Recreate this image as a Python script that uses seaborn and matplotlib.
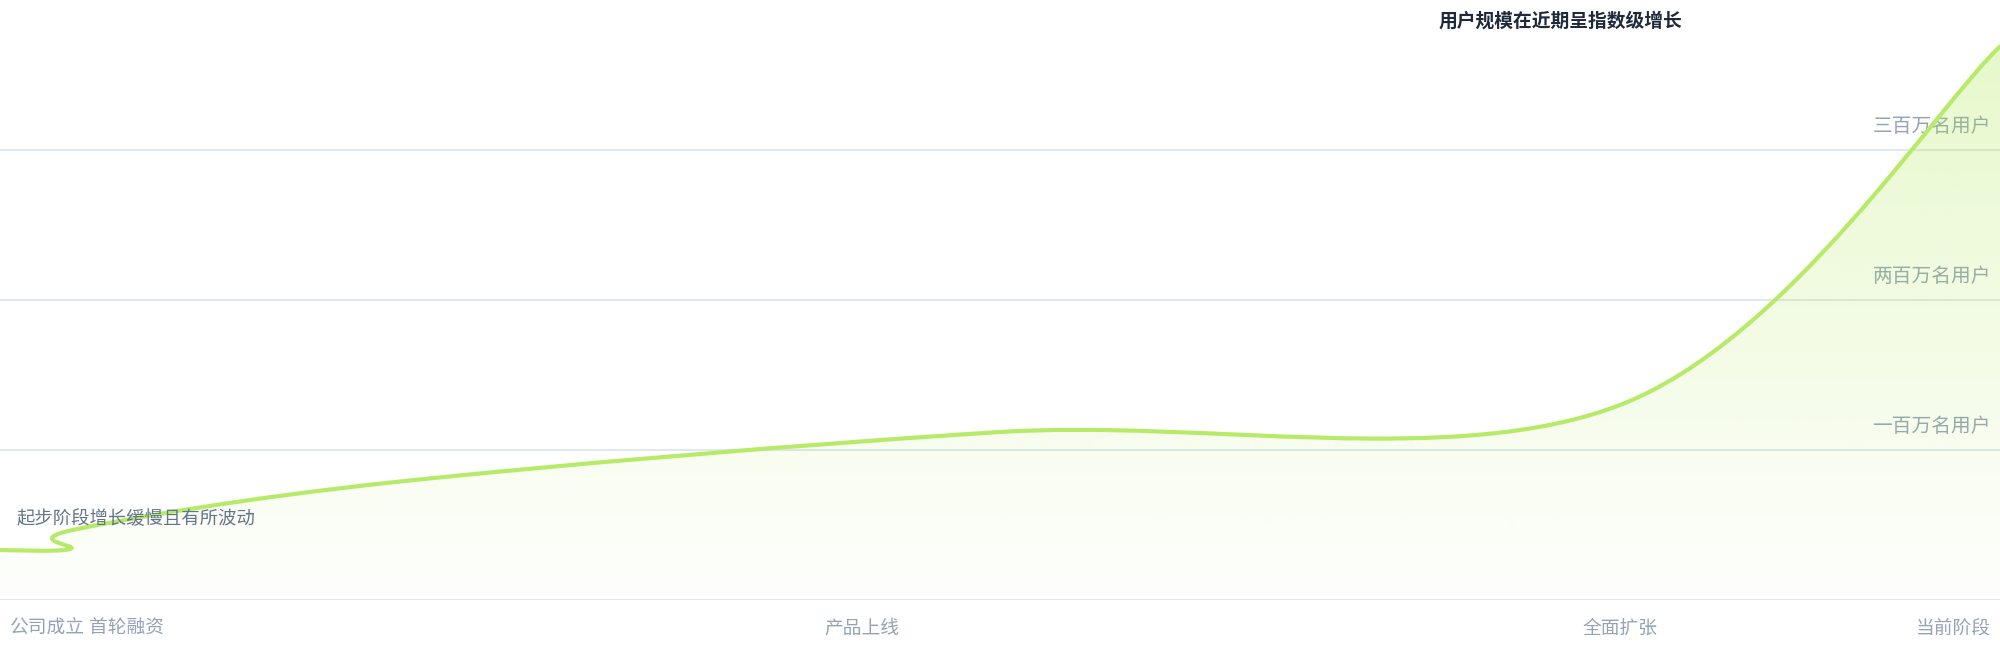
import numpy as np
import matplotlib
matplotlib.use("Agg")
import matplotlib.pyplot as plt
from matplotlib.path import Path
from matplotlib.patches import PathPatch
import matplotlib.transforms as mtransforms
import seaborn as sns

# ---------------- data ----------------
point_x = [0, 3.5, 3.75, 20, 50, 81, 100]            # timeline position
point_y = [0.333, 0.34, 0.47, 0.79, 1.12, 1.30, 3.69]  # users (millions)

tick_pos = [0, 6.3, 43.1, 81, 100]
tick_labels = ["公司成立", "首轮融资", "产品上线", "全面扩张", "当前阶段"]

grid_values = [0, 1, 2, 3]
ylabel_values = [1, 2, 3]
ylabel_texts = ["一百万名用户", "两百万名用户", "三百万名用户"]

title_text = "用户规模在近期呈指数级增长"
note_text = "起步阶段增长缓慢且有所波动"

# ---------------- style ----------------
sns.set_theme(style="white")
plt.rcParams["font.family"] = ["Noto Sans CJK SC", "DejaVu Sans"]

LINE = "#b8ea6a"
FILL_RGB = (163 / 255, 230 / 255, 53 / 255)
GRID = "#e2e8f0"
TICK = "#94a3b8"

fig = plt.figure(figsize=(20, 6.6), dpi=100)
ax = fig.add_axes([0, 60 / 660, 1, 600 / 660])
ax.set_xlim(0, 100)
ax.set_ylim(0, 4)
for s in ax.spines.values():
    s.set_visible(False)
ax.set_facecolor("white")

# gridlines
ax.set_yticks(grid_values)
ax.set_yticklabels([])
ax.grid(axis="y", color=GRID, linewidth=1.5)
ax.grid(axis="x", visible=False)
ax.tick_params(axis="y", length=0)
ax.set_axisbelow(True)

# ---------------- smooth (cardinal) curve through the points ----------------
P = np.column_stack([point_x, point_y]).astype(float)
n = len(P)
ext = np.vstack([P[0], P, P[-1]])
verts = [tuple(P[0])]
codes = [Path.MOVETO]
for i in range(n - 1):
    p_prev, p0, p1, p_next = ext[i], ext[i + 1], ext[i + 2], ext[i + 3]
    c1 = p0 + (p1 - p_prev) / 6.0
    c2 = p1 - (p_next - p0) / 6.0
    verts += [tuple(c1), tuple(c2), tuple(p1)]
    codes += [Path.CURVE4] * 3

line_path = Path(verts, codes)

# area (gradient fill clipped by the area path)
area_verts = verts + [(point_x[-1], 0), (point_x[0], 0), verts[0]]
area_codes = codes + [Path.LINETO, Path.LINETO, Path.CLOSEPOLY]
area_path = Path(area_verts, area_codes)
area_patch = PathPatch(area_path, facecolor="none", edgecolor="none", transform=ax.transData)
ax.add_patch(area_patch)

N = 300
alpha = np.linspace(0.01, 0.28, N)
grad = np.zeros((N, 1, 4))
grad[:, 0, 0] = FILL_RGB[0]
grad[:, 0, 1] = FILL_RGB[1]
grad[:, 0, 2] = FILL_RGB[2]
grad[:, 0, 3] = alpha
im = ax.imshow(grad, extent=[0, 100, 0, 4], origin="lower", aspect="auto",
               interpolation="bilinear", zorder=3)
im.set_clip_path(area_patch)

line_patch = PathPatch(line_path, facecolor="none", edgecolor=LINE, lw=3,
                       capstyle="round", joinstyle="round", zorder=4)
ax.add_patch(line_patch)

# ---------------- x tick labels ----------------
ax.set_xticks(tick_pos)
ax.set_xticklabels(tick_labels)
ax.tick_params(axis="x", length=0, pad=13, labelsize=13.5, colors=TICK)
labels = ax.get_xticklabels()
labels[0].set_horizontalalignment("left")
labels[0].set_transform(labels[0].get_transform() +
                        mtransforms.ScaledTranslation(9 / 100, 0, fig.dpi_scale_trans))
labels[-1].set_horizontalalignment("right")
labels[-1].set_transform(labels[-1].get_transform() +
                         mtransforms.ScaledTranslation(-9 / 100, 0, fig.dpi_scale_trans))

# ---------------- y labels inside ----------------
for v, t in zip(ylabel_values, ylabel_texts):
    ax.text(99.55, v + 0.16, t, ha="right", va="center", fontsize=14.2,
            color=TICK, zorder=2)

# ---------------- title and note ----------------
ax.text(78, 3.86, title_text, ha="center", va="center", fontsize=13.5,
        color="#1e293b", fontweight="bold", zorder=5)
ax.text(0.85, 0.54, note_text, ha="left", va="center", fontsize=13.2,
        color="#64748b", zorder=5)

fig.savefig("out.png", dpi=100, facecolor="white")
